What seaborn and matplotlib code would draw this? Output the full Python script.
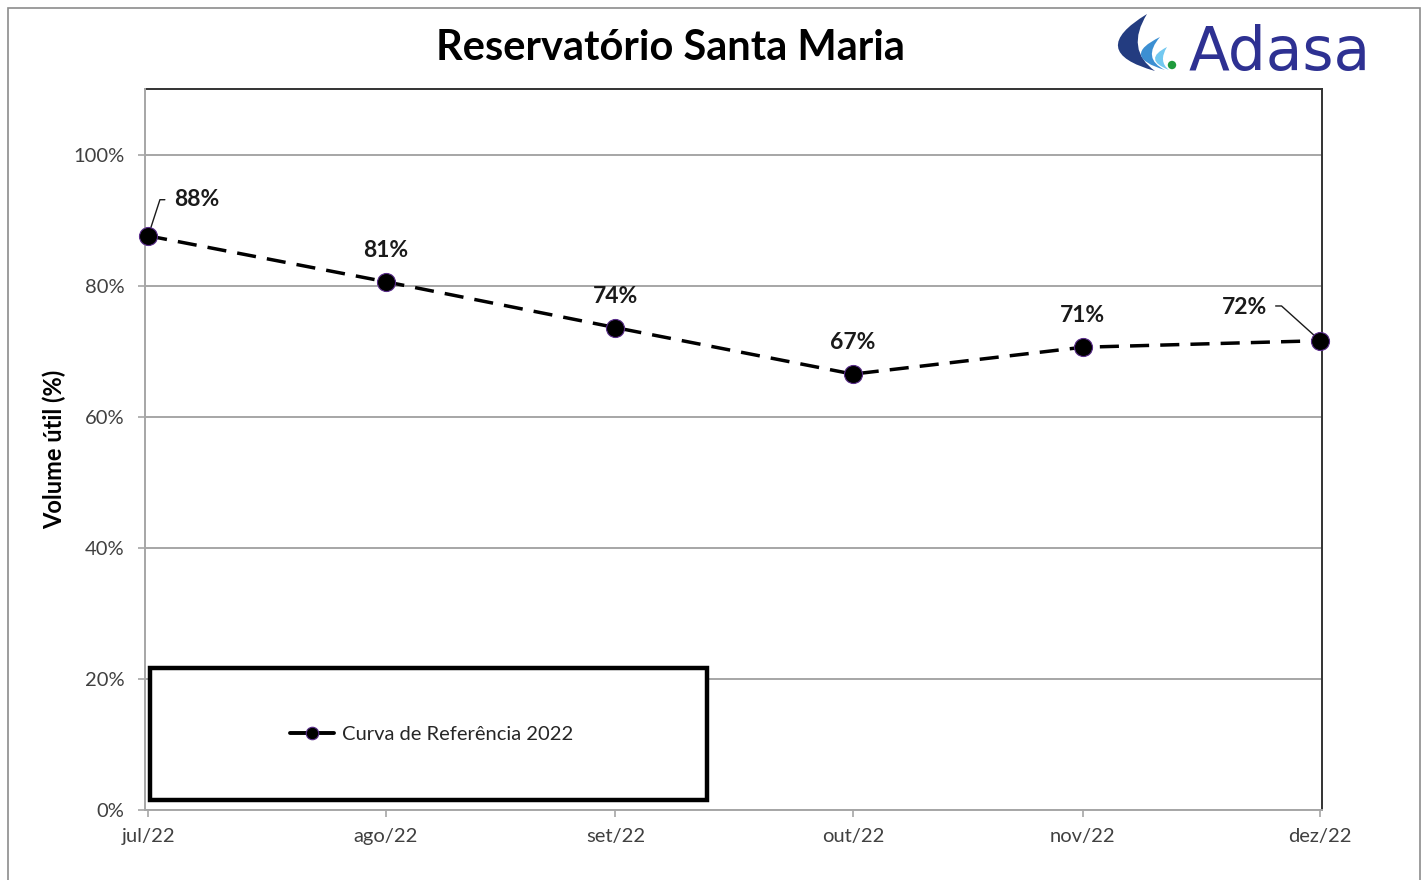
import numpy as np
import pandas as pd
import matplotlib
matplotlib.use("Agg")
import matplotlib.pyplot as plt
from matplotlib.lines import Line2D
from matplotlib.patches import Rectangle, PathPatch, Circle
from matplotlib.path import Path
import seaborn as sns

# ---------------- data ----------------
months = ["2022-07-31", "2022-08-31", "2022-09-30", "2022-10-31", "2022-11-30", "2022-12-31"]
month_labels = ["jul/22", "ago/22", "set/22", "out/22", "nov/22", "dez/22"]
volume = [87.6, 80.6, 73.6, 66.5, 70.6, 71.6]
point_labels = ["88%", "81%", "74%", "67%", "71%", "72%"]
series_name = "Curva de Referência 2022"
title = "Reservatório Santa Maria"
ylabel = "Volume útil (%)"
y_ticks = [0, 20, 40, 60, 80, 100]

df = pd.DataFrame({"mes": pd.to_datetime(months), "volume": volume})

sns.set_style("white")
plt.rcParams["font.family"] = ["Lato", "DejaVu Sans"]

W, H = 1428, 880
fig = plt.figure(figsize=(W / 100, H / 100), dpi=100)
fig.patch.set_facecolor("white")

def fx(px):
    return px / W

def fy(py):
    return 1 - py / H

ax = fig.add_axes([fx(145), fy(810), fx(1322) - fx(145), fy(89) - fy(810)])

sns.lineplot(data=df, x="mes", y="volume", ax=ax, color="black", linewidth=2.5,
             marker="o", markersize=13, markerfacecolor="black",
             markeredgecolor="#5a2d8a", markeredgewidth=0.8, zorder=5)
for ln in ax.lines:
    ln.set_dashes((5.5, 3.2))
    ln.set_clip_on(False)

ax.set_ylim(0, 110)
ax.set_xlim(df["mes"].iloc[0] - pd.Timedelta(hours=10), df["mes"].iloc[-1] + pd.Timedelta(hours=6))
ax.set_yticks(y_ticks)
ax.set_yticklabels([f"{v}%" for v in y_ticks])
ax.set_xticks(df["mes"])
ax.set_xticklabels(month_labels)
ax.yaxis.grid(True, color="#a6a6a6", linewidth=1.4)
ax.xaxis.grid(False)
ax.set_axisbelow(True)
ax.set_xlabel("")
ax.set_ylabel(ylabel, fontsize=17, fontweight="bold", color="black", labelpad=5)

for side in ["left", "bottom"]:
    ax.spines[side].set_color("#a6a6a6")
    ax.spines[side].set_linewidth(1.4)
for side in ["top", "right"]:
    ax.spines[side].set_color("#333333")
    ax.spines[side].set_linewidth(1.4)
    ax.spines[side].set_visible(True)
    ax.spines[side].set_zorder(2)

ax.tick_params(axis="both", which="both", direction="out", length=5, width=1.2,
               color="#a6a6a6", labelcolor="#404040", labelsize=14.5)
ax.tick_params(axis="x", pad=8, bottom=True)
ax.tick_params(axis="y", pad=10, left=True)

# data labels
for i, (d, v, lab) in enumerate(zip(df["mes"], volume, point_labels)):
    if i == 0:
        xy_off, ha, va = (19, 26), "left", "center"
    elif i == len(volume) - 1:
        xy_off, ha, va = (-38, 24), "right", "center"
    else:
        xy_off, ha, va = (0, 15), "center", "bottom"
    ax.annotate(lab, (d, v), xytext=xy_off, textcoords="offset points",
                ha=ha, va=va, fontsize=16.5, fontweight="bold", color="#1a1a1a", zorder=6)

# leader lines for first and last labels
d0, v0 = df["mes"].iloc[0], volume[0]
ax.annotate("", xy=(d0, v0), xytext=(14, 26), textcoords="offset points",
            arrowprops=dict(arrowstyle="-", color="#1a1a1a", lw=1.0,
                            connectionstyle="angle,angleA=0,angleB=72,rad=0"))
d5, v5 = df["mes"].iloc[-1], volume[-1]
ax.annotate("", xy=(d5, v5), xytext=(-34, 25), textcoords="offset points",
            arrowprops=dict(arrowstyle="-", color="#1a1a1a", lw=1.0,
                            connectionstyle="angle,angleA=0,angleB=-42,rad=0"))

# legend box
ax.add_patch(Rectangle((0.0045, 0.014), 0.4730, 0.183, transform=ax.transAxes,
                       facecolor="white", edgecolor="black", linewidth=3.2, zorder=7))
handle = Line2D([], [], color="black", linewidth=2.8, marker="o", markersize=9,
                markerfacecolor="black", markeredgecolor="#5a2d8a", markeredgewidth=0.8)
leg = ax.legend([handle], [series_name], loc="center", bbox_to_anchor=(0.2435, 0.105),
                frameon=False, fontsize=14.5, handlelength=2.2, handletextpad=0.4)
leg.set_zorder(8)
for t in leg.get_texts():
    t.set_color("#262626")

# title
fig.text(fx(670), fy(48), title, ha="center", va="center", fontsize=30,
         fontweight="bold", color="black")

# outer frame
fig.add_artist(Rectangle((fx(8), -0.05), fx(1420) - fx(8), fy(8) + 0.05, transform=fig.transFigure,
                         facecolor="none", edgecolor="#8c8c8c", linewidth=1.2, clip_on=False))

# logo (decorative)
lax = fig.add_axes([fx(1110), fy(78), fx(1190) - fx(1110), fy(10) - fy(78)])
lax.set_xlim(1110, 1190)
lax.set_ylim(78, 10)
lax.axis("off")

def crescent(a, b_out, b_in, c, color):
    a, b_out, b_in, c = map(np.asarray, (a, b_out, b_in, c))
    q_out = (4 * b_out - a - c) / 2.0
    q_in = (4 * b_in - a - c) / 2.0
    verts = [a, q_out, c, q_in, a, a]
    codes = [Path.MOVETO, Path.CURVE3, Path.CURVE3, Path.CURVE3, Path.CURVE3, Path.CLOSEPOLY]
    lax.add_patch(PathPatch(Path(verts, codes), facecolor=color, edgecolor="none"))

crescent((1147, 14), (1118, 47), (1138, 46), (1155, 71), "#233c80")
crescent((1160, 37), (1141, 55), (1152, 56), (1165, 70), "#3c8fd2")
crescent((1167, 47), (1155, 59), (1163, 60), (1169, 70), "#72c8f0")
lax.add_patch(Circle((1172, 65), 4.2, facecolor="#1f9a3c", edgecolor="none"))

fig.text(fx(1189), fy(70), "Adasa", ha="left", va="baseline", fontsize=43,
         color="#2e3192", family=["DejaVu Sans"])

fig.savefig("out.png", dpi=100, facecolor="white")
